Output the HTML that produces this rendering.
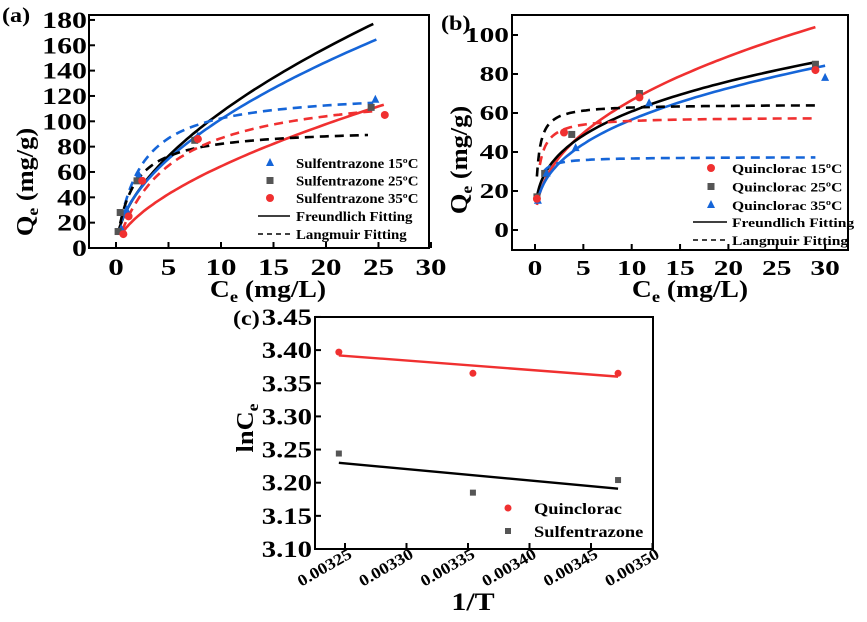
<!DOCTYPE html>
<html><head><meta charset="utf-8"><style>
body{margin:0;background:#fff}
svg text{font-family:"Liberation Serif","Times New Roman",serif;font-weight:bold}
</style></head><body>
<svg id="s" width="867" height="617" xmlns="http://www.w3.org/2000/svg" font-family="Liberation Serif, serif" font-weight="bold"></svg>
<script>
const S=document.getElementById('s');let h='';
function P(cfg){return [x=>cfg.x0+(x-cfg.a0)*cfg.sx, y=>cfg.y0-(y-cfg.b0)*cfg.sy];}
function curve(X,Y,f,c0,c1,col,dash){let d='';for(let i=0;i<=80;i++){let c=c0+(c1-c0)*Math.pow(i/80,1.6);d+=(i?'L':'M')+X(c).toFixed(1)+','+Y(f(c)).toFixed(1);}
h+=`<path d="${d}" fill="none" stroke="${col}" stroke-width="2.6" ${dash?'stroke-dasharray="9,6"':''}/>`;}
function mk(t,x,y,col,r){r=r||4;if(t=='t')h+=`<polygon points="${x},${y-r-1} ${x-r},${y+r-1} ${x+r},${y+r-1}" fill="${col}"/>`;
else if(t=='s')h+=`<rect x="${x-r+0.5}" y="${y-r+0.5}" width="${2*r-1}" height="${2*r-1}" fill="${col}"/>`;
else h+=`<circle cx="${x}" cy="${y}" r="${r}" fill="${col}"/>`;}
const F='font-family="Liberation Serif, serif" font-weight="bold"';
function T(x,y,fs,anc,s,sx,rot){h+=`<text ${F} transform="translate(${x},${y})${rot?' rotate('+rot+')':''} scale(${sx||1},1)" font-size="${fs}" text-anchor="${anc}">${s}</text>`;}
const B='#1565d8',R='#f03030',G='#555',K='#000';
// panel a
{const [X,Y]=P({x0:116,a0:0,sx:10.5,y0:248,b0:0,sy:1.267});
h+=`<rect x="89" y="15" width="340" height="233" fill="none" stroke="#000" stroke-width="2"/>`;
for(let v=0;v<=180;v+=20){let y=Y(v);h+=`<line x1="89" y1="${y}" x2="95" y2="${y}" stroke="#000" stroke-width="2"/>`;T(87,y+8,23,'end',v,1.3);}
for(let v=0;v<=30;v+=5){let x=X(v);h+=`<line x1="${x}" y1="248" x2="${x}" y2="242" stroke="#000" stroke-width="2"/>`;T(x,275,23,'middle',v,1.35);}
T(2,22,21,'start','(a)',1.15);
T(268,297,24,'middle','C<tspan font-size="16" dy="5">e</tspan><tspan dy="-5"> (mg/L)</tspan>',1.15);
T(33,182,24,'middle','Q<tspan font-size="16" dy="5">e</tspan><tspan dy="-5"> (mg/g)</tspan>',1.1,-90);
curve(X,Y,c=>29.5*Math.pow(c,0.56),0.3,24.5,K);
curve(X,Y,c=>30*Math.pow(c,0.53),0.5,24.8,B);
curve(X,Y,c=>16.2*Math.pow(c,0.6),0.6,25.5,R);
curve(X,Y,c=>125*0.45*c/(1+0.45*c),0.5,24.5,B,1);
curve(X,Y,c=>95*0.64*c/(1+0.64*c),0.4,24,K,1);
curve(X,Y,c=>130*0.2*c/(1+0.2*c),0.6,24.5,R,1);
[[0.5,15],[1,30],[2.2,57],[7.8,88],[24.7,117]].forEach(p=>mk('t',X(p[0]),Y(p[1]),B));
[[0.2,13],[0.4,28],[2,53],[7.5,85],[24.3,111]].forEach(p=>mk('s',X(p[0]),Y(p[1]),G));
[[0.7,11],[1.2,25],[2.5,53],[7.8,86],[25.6,105]].forEach(p=>mk('c',X(p[0]),Y(p[1]),R));
const L=[['t',B,'Sulfentrazone 15ºC'],['s',G,'Sulfentrazone 25ºC'],['c',R,'Sulfentrazone 35ºC']];
L.forEach((l,i)=>{let y=163+i*17.5;mk(l[0],270,y,l[1]);T(296,y+5,13.5,'start',l[2],1.1);});
h+=`<line x1="258" y1="216" x2="290" y2="216" stroke="#000" stroke-width="1.5"/>`;T(296,221,13.5,'start','Freundlich Fitting',1.1);
h+=`<line x1="258" y1="234" x2="290" y2="234" stroke="#000" stroke-width="1.5" stroke-dasharray="5,4"/>`;T(296,239,13.5,'start','Langmuir Fitting',1.1);}
// panel b
{const [X,Y]=P({x0:535,a0:0,sx:9.67,y0:230,b0:0,sy:1.95});
h+=`<rect x="512" y="15" width="336" height="235" fill="none" stroke="#000" stroke-width="2"/>`;
for(let v=0;v<=100;v+=20){let y=Y(v);h+=`<line x1="512" y1="${y}" x2="518" y2="${y}" stroke="#000" stroke-width="2"/>`;T(509,y+7,21,'end',v,1.4);}
for(let v=0;v<=30;v+=5){let x=X(v);h+=`<line x1="${x}" y1="250" x2="${x}" y2="244" stroke="#000" stroke-width="2"/>`;T(x,275,21,'middle',v,1.4);}
T(441,30,21,'start','(b)',1.15);
T(690,297,24,'middle','C<tspan font-size="16" dy="5">e</tspan><tspan dy="-5"> (mg/L)</tspan>',1.15);
T(467,160,24,'middle','Q<tspan font-size="16" dy="5">e</tspan><tspan dy="-5"> (mg/g)</tspan>',1.1,-90);
curve(X,Y,c=>25.3*Math.pow(c,0.42),0.2,29,R);
curve(X,Y,c=>28.7*Math.pow(c,0.326),0.2,29,K);
curve(X,Y,c=>24.6*Math.pow(c,0.362),0.3,30,B);
curve(X,Y,c=>64.5*3.7*c/(1+3.7*c),0.2,29,K,1);
curve(X,Y,c=>58*2.7*c/(1+2.7*c),0.5,29,R,1);
curve(X,Y,c=>37.5*4.4*c/(1+4.4*c),0.9,29,B,1);
[[0.2,17],[1,29],[3.8,49],[10.8,70],[29,85]].forEach(p=>mk('s',X(p[0]),Y(p[1]),G));
[[0.3,15],[1.2,29],[4.2,42],[11.8,65],[30,78]].forEach(p=>mk('t',X(p[0]),Y(p[1]),B));
[[0.2,16],[3,50],[10.8,68],[29,82]].forEach(p=>mk('c',X(p[0]),Y(p[1]),R));
const L=[['c',R,'Quinclorac 15ºC'],['s',G,'Quinclorac 25ºC'],['t',B,'Quinclorac 35ºC']];
L.forEach((l,i)=>{let y=168+i*18.5;mk(l[0],711,y,l[1]);T(732,y+5,13,'start',l[2],1.2);});
h+=`<line x1="693" y1="222" x2="727" y2="222" stroke="#000" stroke-width="1.5"/>`;T(732,227,13,'start','Freundlich Fitting',1.2);
h+=`<line x1="693" y1="240" x2="727" y2="240" stroke="#000" stroke-width="1.5" stroke-dasharray="5,4"/>`;T(732,245,13,'start','Langmuir Fitting',1.2);}
// panel c
{const [X,Y]=P({x0:345,a0:0.00325,sx:1230000,y0:549,b0:3.10,sy:663});
h+=`<rect x="315" y="317" width="338" height="232" fill="none" stroke="#000" stroke-width="2"/>`;
for(let i=0;i<=7;i++){let v=3.10+i*0.05,y=Y(v);h+=`<line x1="315" y1="${y}" x2="321" y2="${y}" stroke="#000" stroke-width="2"/>`;T(312,y+8,23,'end',v.toFixed(2),1.25);}
for(let i=0;i<=5;i++){let v=0.00325+i*0.00005,x=X(v);h+=`<line x1="${x}" y1="549" x2="${x}" y2="543" stroke="#000" stroke-width="2"/>`;T(x+8,557,16,'end',v.toFixed(5),1.15,-30);}
T(233,325,21,'start','(c)',1.15);
T(473,610,25,'middle','1/T',1.2);
T(253,428,24,'middle','lnC<tspan font-size="16" dy="5">e</tspan>',1.1,-90);
h+=`<line x1="${X(0.003245)}" y1="${Y(3.392)}" x2="${X(0.003472)}" y2="${Y(3.360)}" stroke="${R}" stroke-width="2.4"/>`;
h+=`<line x1="${X(0.003245)}" y1="${Y(3.230)}" x2="${X(0.003472)}" y2="${Y(3.191)}" stroke="#000" stroke-width="2.4"/>`;
[[0.003245,3.397],[0.003354,3.365],[0.003472,3.365]].forEach(p=>mk('c',X(p[0]),Y(p[1]),R,3.5));
[[0.003245,3.244],[0.003354,3.185],[0.003472,3.204]].forEach(p=>mk('s',X(p[0]),Y(p[1]),G,3.5));
mk('c',508,508,R,3.5);T(534,514,16,'start','Quinclorac',1.15);
mk('s',508,531,G,3.5);T(534,537,16,'start','Sulfentrazone',1.15);}
S.innerHTML=h;
</script>
</body></html>
